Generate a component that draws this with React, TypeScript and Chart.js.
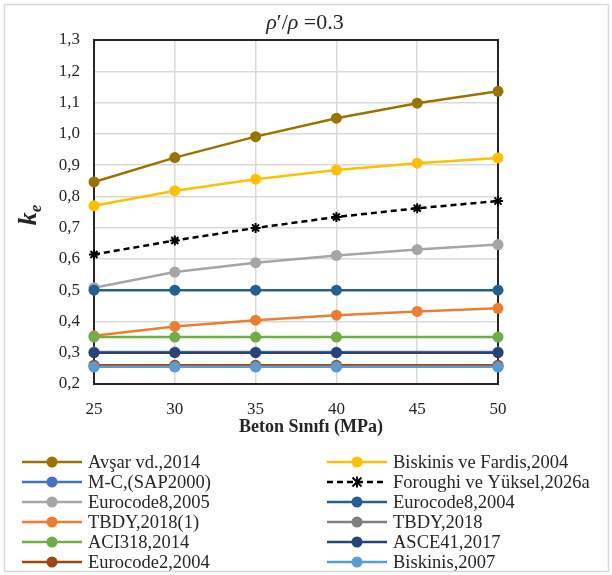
import React, { useEffect, useRef } from "react";
import { Chart, registerables } from "chart.js";
Chart.register(...registerables);

// Concrete class (MPa)
const xFull = [25, 30, 35, 40, 45, 50];
const xConst = [25, 30, 35, 40, 50];

const avsar = [0.846, 0.924, 0.991, 1.05, 1.098, 1.136];
const biskinisFardis = [0.77, 0.818, 0.855, 0.884, 0.906, 0.923];
const mcSap = [0.255, 0.255, 0.255, 0.255, 0.255];
const foroughi = [0.614, 0.659, 0.699, 0.734, 0.762, 0.785];
const ec8_2005 = [0.508, 0.558, 0.588, 0.611, 0.63, 0.646];
const ec8_2004 = [0.5, 0.5, 0.5, 0.5, 0.5];
const tbdy1 = [0.354, 0.384, 0.404, 0.42, 0.432, 0.442];
const tbdy2018 = [0.302, 0.302, 0.302, 0.302, 0.302];
const aci = [0.35, 0.35, 0.35, 0.35, 0.35];
const asce = [0.3, 0.3, 0.3, 0.3, 0.3];
const ec2 = [0.26, 0.26, 0.26, 0.26, 0.26];
const biskinis2007 = [0.255, 0.255, 0.255, 0.255, 0.255];

const seriesNames = [
  "Avşar vd.,2014",
  "Biskinis ve Fardis,2004",
  "M-C,(SAP2000)",
  "Foroughi ve Yüksel,2026a",
  "Eurocode8,2005",
  "Eurocode8,2004",
  "TBDY,2018(1)",
  "TBDY,2018",
  "ACI318,2014",
  "ASCE41,2017",
  "Eurocode2,2004",
  "Biskinis,2007",
];
const seriesValues = [avsar, biskinisFardis, mcSap, foroughi, ec8_2005, ec8_2004, tbdy1, tbdy2018, aci, asce, ec2, biskinis2007];
const seriesX = [xFull, xFull, xConst, xFull, xFull, xConst, xFull, xConst, xConst, xConst, xConst, xConst];
const seriesColors = [
  "#997300", "#FFC000", "#4472C4", "#000000", "#A5A5A5", "#255E91",
  "#ED7D31", "#7F7F7F", "#70AD47", "#264478", "#9E480E", "#5B9BD5",
];

const FONT = "'Liberation Serif', 'Times New Roman', serif";

const decor = {
  id: "decor",
  beforeDraw(chart: any) {
    const ctx = chart.ctx;
    ctx.save();
    ctx.fillStyle = "#fff";
    ctx.fillRect(0, 0, chart.width, chart.height);
    ctx.strokeStyle = "#d9d9d9";
    ctx.lineWidth = 1.5;
    ctx.strokeRect(4.5, 4.5, chart.width - 8, chart.height - 8);
    ctx.restore();
  },
  beforeDatasetsDraw(chart: any) {
    const { ctx, chartArea: a } = chart;
    ctx.save();
    ctx.strokeStyle = "#262626";
    ctx.lineWidth = 2;
    ctx.strokeRect(a.left, a.top, a.right - a.left, a.bottom - a.top);
    ctx.restore();
  },
  afterDraw(chart: any) {
    const ctx = chart.ctx;
    ctx.save();
    ctx.fillStyle = "#262626";
    ctx.textBaseline = "alphabetic";
    // Title
    const parts: [string, string][] = [
      ["ρ", `italic 22px ${FONT}`],
      ["′", `22px ${FONT}`],
      ["/", `22px ${FONT}`],
      ["ρ", `italic 22px ${FONT}`],
      [" =0.3", `22px ${FONT}`],
    ];
    let total = 0;
    for (const [t, f] of parts) { ctx.font = f; total += ctx.measureText(t).width; }
    let x = 305 - total / 2;
    for (const [t, f] of parts) { ctx.font = f; ctx.fillText(t, x, 29); x += ctx.measureText(t).width; }

    // Y title k_e
    ctx.save();
    ctx.translate(36, 215);
    ctx.rotate(-Math.PI / 2);
    ctx.font = `italic bold 26px ${FONT}`;
    const kw = ctx.measureText("k").width;
    ctx.font = `italic bold 17px ${FONT}`;
    const ew = ctx.measureText("e").width;
    ctx.font = `italic bold 26px ${FONT}`;
    ctx.fillText("k", -(kw + ew) / 2, 0);
    ctx.font = `italic bold 17px ${FONT}`;
    ctx.fillText("e", -(kw + ew) / 2 + kw, 5);
    ctx.restore();

    // X title
    ctx.font = `bold 18px ${FONT}`;
    ctx.textAlign = "center";
    ctx.fillText("Beton Sınıfı (MPa)", 311, 432);

    // Legend
    ctx.textAlign = "left";
    ctx.textBaseline = "middle";
    ctx.font = `18.5px ${FONT}`;
    const colX = [22, 327];
    const rowY0 = 462;
    const rowH = 20;
    seriesNames.forEach((name, i) => {
      const col = i % 2;
      const row = Math.floor(i / 2);
      const lx = colX[col];
      const ly = rowY0 + row * rowH;
      const color = seriesColors[i];
      ctx.strokeStyle = color;
      ctx.lineWidth = 2.5;
      ctx.setLineDash(i === 3 ? [6, 4] : []);
      ctx.beginPath();
      ctx.moveTo(lx, ly);
      ctx.lineTo(lx + 60, ly);
      ctx.stroke();
      ctx.setLineDash([]);
      const mx = lx + 30;
      if (i === 3) {
        ctx.lineWidth = 2;
        ctx.beginPath();
        const r = 4.5;
        ctx.moveTo(mx - r, ly - r); ctx.lineTo(mx + r, ly + r);
        ctx.moveTo(mx - r, ly + r); ctx.lineTo(mx + r, ly - r);
        ctx.moveTo(mx, ly - r - 1); ctx.lineTo(mx, ly + r + 1);
        ctx.stroke();
      } else {
        ctx.fillStyle = color;
        ctx.beginPath();
        ctx.arc(mx, ly, 5.5, 0, Math.PI * 2);
        ctx.fill();
      }
      ctx.fillStyle = "#262626";
      ctx.fillText(name, lx + 66, ly + 1);
    });
    ctx.restore();
  },
};

export default function App() {
  const ref = useRef<HTMLCanvasElement | null>(null);
  useEffect(() => {
    if (!ref.current) return;
    const datasets = seriesNames.map((name, i) => ({
      label: name,
      data: seriesX[i].map((xv, j) => ({ x: xv, y: seriesValues[i][j] })),
      borderColor: seriesColors[i],
      backgroundColor: seriesColors[i],
      borderWidth: 2.5,
      borderDash: i === 3 ? [6, 4] : [],
      pointStyle: i === 3 ? "star" : "circle",
      pointRadius: i === 3 ? 5 : 5.5,
      pointBorderWidth: i === 3 ? 2 : 0,
      pointBorderColor: seriesColors[i],
      pointBackgroundColor: seriesColors[i],
      showLine: true,
      fill: false,
      tension: 0,
      clip: false,
      order: seriesNames.length - i,
    }));
    const chart = new Chart(ref.current, {
      type: "scatter",
      data: { datasets },
      plugins: [decor],
      options: {
        responsive: false,
        animation: false,
        layout: { padding: { left: 0, top: 40, right: 114, bottom: 0 } },
        plugins: { legend: { display: false }, tooltip: { enabled: false }, title: { display: false } },
        scales: {
          x: {
            type: "linear",
            min: 25,
            max: 50,
            afterFit(s: any) { s.height = 191; },
            ticks: { stepSize: 5, color: "#262626", font: { family: FONT, size: 17 }, padding: 15 },
            grid: { color: "#d9d9d9", lineWidth: 1.5, drawTicks: false },
            border: { display: true, color: "#262626", width: 2 },
          },
          y: {
            min: 0.2,
            max: 1.3,
            afterFit(s: any) { s.width = 94; },
            ticks: {
              stepSize: 0.1,
              color: "#262626",
              font: { family: FONT, size: 17 },
              padding: 14,
              callback: (v: any) => Number(v).toFixed(1).replace(".", ","),
            },
            grid: { color: "#d9d9d9", lineWidth: 1.5, drawTicks: false },
            border: { display: true, color: "#262626", width: 2 },
          },
        },
      } as any,
    });
    return () => chart.destroy();
  }, []);
  return (
    <div style={{ position: "fixed", left: 0, top: 0, width: 612, height: 575 }}>
      <canvas ref={ref} width={612} height={575} style={{ display: "block" }} />
    </div>
  );
}
